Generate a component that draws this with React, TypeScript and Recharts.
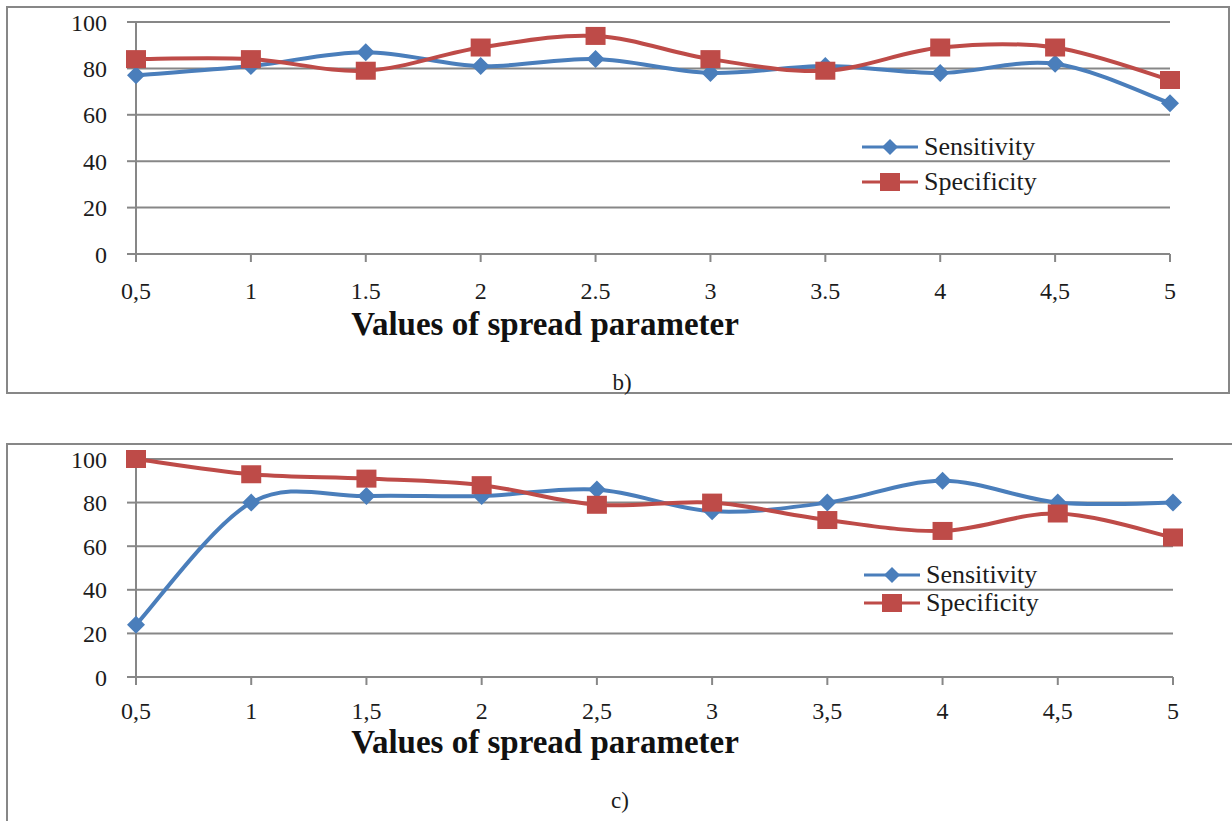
import React from "react";
import { LineChart, Line, XAxis, YAxis, CartesianGrid, Legend } from "recharts";

// panel b)
const xLabelsB = ["0,5", "1", "1.5", "2", "2.5", "3", "3.5", "4", "4,5", "5"];
const sensitivityB = [77, 81, 87, 81, 84, 78, 81, 78, 82, 65];
const specificityB = [84, 84, 79, 89, 94, 84, 79, 89, 89, 75];

// panel c)
const xLabelsC = ["0,5", "1", "1,5", "2", "2,5", "3", "3,5", "4", "4,5", "5"];
const sensitivityC = [24, 80, 83, 83, 86, 76, 80, 90, 80, 80];
const specificityC = [100, 93, 91, 88, 79, 80, 72, 67, 75, 64];

const yTicks = [0, 20, 40, 60, 80, 100];
const seriesNames = ["Sensitivity", "Specificity"];

const BLUE = "#4a7ebb";
const RED = "#be4b48";
const GRID = "#878787";
const TEXT = "#1c1c1c";
const SERIF = '"Liberation Serif", "Times New Roman", serif';

// Excel style smoothing: Catmull-Rom through every point
const smoothCurve = (context: any) => {
  let pts: number[][] = [];
  return {
    areaStart() {},
    areaEnd() {},
    lineStart() {
      pts = [];
    },
    point(x: number, y: number) {
      pts.push([+x, +y]);
    },
    lineEnd() {
      if (!pts.length) return;
      context.moveTo(pts[0][0], pts[0][1]);
      for (let i = 0; i < pts.length - 1; i++) {
        const p0 = pts[i - 1] || pts[i];
        const p1 = pts[i];
        const p2 = pts[i + 1];
        const p3 = pts[i + 2] || p2;
        context.bezierCurveTo(
          p1[0] + (p2[0] - p0[0]) / 6,
          p1[1] + (p2[1] - p0[1]) / 6,
          p2[0] - (p3[0] - p1[0]) / 6,
          p2[1] - (p3[1] - p1[1]) / 6,
          p2[0],
          p2[1]
        );
      }
    },
  };
};

const diamondPath = (cx: number, cy: number, r: number) =>
  `M${cx},${cy - r}L${cx + r},${cy}L${cx},${cy + r}L${cx - r},${cy}Z`;

const DiamondDot = (p: any) => {
  if (p.cx == null || p.cy == null) return <g key={p.key} />;
  return <path key={p.key} d={diamondPath(p.cx, p.cy, 9)} fill={BLUE} />;
};

const SquareDot = (p: any) => {
  if (p.cx == null || p.cy == null) return <g key={p.key} />;
  return <rect key={p.key} x={p.cx - 10} y={p.cy - 9} width={20} height={18} fill={RED} />;
};

const LegendBox: React.FC<{ gap: number }> = ({ gap }) => (
  <div style={{ fontFamily: SERIF, fontSize: 26, color: TEXT }}>
    {seriesNames.map((name, i) => (
      <div key={name} style={{ display: "flex", alignItems: "center", height: gap }}>
        <svg width={58} height={20} style={{ display: "block" }}>
          <line x1={1} y1={10} x2={57} y2={10} stroke={i === 0 ? BLUE : RED} strokeWidth={3} />
          {i === 0 ? (
            <path d={diamondPath(29, 10, 8)} fill={BLUE} />
          ) : (
            <rect x={19} y={1} width={20} height={18} fill={RED} />
          )}
        </svg>
        <span style={{ marginLeft: 5, lineHeight: 1 }}>{name}</span>
      </div>
    ))}
  </div>
);

interface PanelProps {
  top: number;
  height: number;
  margin: { top: number; right: number; bottom: number; left: number };
  labels: string[];
  sens: number[];
  spec: number[];
  xTickMargin: number;
  legendPos: { left: number; top: number };
  legendGap: number;
}

const Panel: React.FC<PanelProps> = (props) => {
  const data = props.labels.map((x, i) => ({
    x,
    Sensitivity: props.sens[i],
    Specificity: props.spec[i],
  }));
  const tick = { fill: TEXT, fontSize: 24, fontFamily: SERIF };
  return (
    <div style={{ position: "absolute", left: 0, top: props.top }}>
      <LineChart width={1232} height={props.height} data={data} margin={props.margin}>
        <CartesianGrid vertical={false} stroke={GRID} strokeWidth={2} />
        <XAxis
          dataKey="x"
          interval={0}
          height={56}
          tickSize={8}
          tickMargin={props.xTickMargin}
          tick={tick}
          axisLine={{ stroke: GRID, strokeWidth: 2 }}
          tickLine={{ stroke: GRID, strokeWidth: 2 }}
        />
        <YAxis
          width={60}
          domain={[0, 100]}
          ticks={yTicks}
          interval={0}
          tickSize={9}
          tickMargin={20}
          tick={tick}
          axisLine={{ stroke: GRID, strokeWidth: 2 }}
          tickLine={{ stroke: GRID, strokeWidth: 2 }}
        />
        <Legend
          layout="vertical"
          align="center"
          verticalAlign="middle"
          wrapperStyle={{ left: props.legendPos.left, top: props.legendPos.top, width: "auto" }}
          content={() => <LegendBox gap={props.legendGap} />}
        />
        <Line
          dataKey="Sensitivity"
          type={smoothCurve as any}
          stroke={BLUE}
          strokeWidth={4}
          dot={DiamondDot}
          activeDot={false}
          isAnimationActive={false}
        />
        <Line
          dataKey="Specificity"
          type={smoothCurve as any}
          stroke={RED}
          strokeWidth={4}
          dot={SquareDot}
          activeDot={false}
          isAnimationActive={false}
        />
      </LineChart>
    </div>
  );
};

const titleStyle: React.CSSProperties = {
  position: "absolute",
  left: 545,
  transform: "translateX(-50%)",
  fontFamily: SERIF,
  fontWeight: "bold",
  fontSize: 33,
  lineHeight: 1,
  whiteSpace: "nowrap",
  color: "#111",
};

const captionStyle: React.CSSProperties = {
  position: "absolute",
  transform: "translateX(-50%)",
  fontFamily: SERIF,
  fontSize: 23,
  lineHeight: 1,
  color: TEXT,
};

export default function App() {
  return (
    <div
      style={{
        position: "absolute",
        left: 0,
        top: 0,
        width: 1232,
        height: 821,
        overflow: "hidden",
        background: "#fff",
      }}
    >
      {/* frames */}
      <div
        style={{
          position: "absolute",
          left: 6,
          top: 6,
          width: 1224,
          height: 388,
          border: `2px solid ${GRID}`,
          boxSizing: "border-box",
        }}
      />
      <div
        style={{
          position: "absolute",
          left: 6,
          top: 443,
          width: 1260,
          height: 420,
          border: `2px solid ${GRID}`,
          boxSizing: "border-box",
        }}
      />

      <Panel
        top={0}
        height={316}
        margin={{ top: 22, right: 62, bottom: 6, left: 76 }}
        labels={xLabelsB}
        sens={sensitivityB}
        spec={specificityB}
        xTickMargin={20}
        legendPos={{ left: 861, top: 129 }}
        legendGap={35}
      />
      <div style={{ ...titleStyle, top: 308 }}>Values of spread parameter</div>
      <div style={{ ...captionStyle, left: 622, top: 371 }}>b)</div>

      <Panel
        top={420}
        height={319}
        margin={{ top: 39, right: 59, bottom: 6, left: 76 }}
        labels={xLabelsC}
        sens={sensitivityC}
        spec={specificityC}
        xTickMargin={17}
        legendPos={{ left: 863, top: 141 }}
        legendGap={28}
      />
      <div style={{ ...titleStyle, top: 726 }}>Values of spread parameter</div>
      <div style={{ ...captionStyle, left: 620, top: 789 }}>c)</div>
    </div>
  );
}
